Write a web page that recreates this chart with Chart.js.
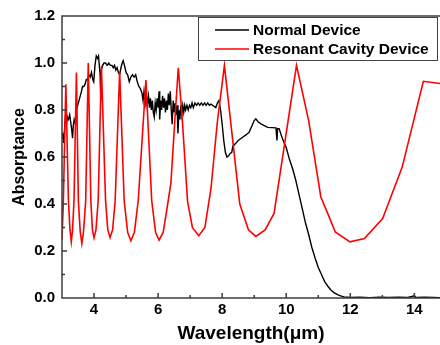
<!DOCTYPE html>
<html>
<head>
<meta charset="utf-8">
<script src="https://cdn.jsdelivr.net/npm/chart.js@4.4.1/dist/chart.umd.min.js"></script>
<style>
  html, body { margin: 0; padding: 0; background: #fff; }
  #absorbChart { display: block; }
</style>
</head>
<body>
<canvas id="absorbChart" width="440" height="345"></canvas>
<script>
// Normal device: measured absorptance vs wavelength (µm)
const normalWl = [
    3.00, 3.03, 3.05, 3.08, 3.11, 3.14, 3.17, 3.20, 3.24, 3.27, 3.30, 3.33, 3.35, 3.38, 3.42,
    3.45, 3.49, 3.53, 3.57, 3.61, 3.64, 3.68, 3.72, 3.76, 3.80, 3.84, 3.88, 3.92, 3.96, 3.99,
    4.03, 4.07, 4.11, 4.14, 4.17, 4.19, 4.21, 4.23, 4.27, 4.31, 4.36, 4.41, 4.46, 4.51, 4.56,
    4.60, 4.64, 4.68, 4.72, 4.76, 4.80, 4.84, 4.88, 4.91, 4.95, 5.00, 5.05, 5.10, 5.15, 5.20,
    5.25, 5.30, 5.35, 5.40, 5.45, 5.50, 5.53, 5.56, 5.60, 5.63, 5.66, 5.70, 5.73, 5.76, 5.79,
    5.82, 5.85, 5.88, 5.91, 5.94, 5.97, 6.00, 6.03, 6.05, 6.08, 6.11, 6.14, 6.17, 6.20, 6.23,
    6.26, 6.29, 6.32, 6.35, 6.38, 6.41, 6.44, 6.47, 6.50, 6.53, 6.56, 6.59, 6.62, 6.65, 6.68,
    6.71, 6.74, 6.77, 6.80, 6.83, 6.86, 6.90, 6.94, 6.98, 7.02, 7.06, 7.10, 7.15, 7.20, 7.25,
    7.30, 7.35, 7.40, 7.45, 7.50, 7.55, 7.60, 7.65, 7.70, 7.75, 7.80, 7.85, 7.90, 7.95, 8.00,
    8.05, 8.10, 8.15, 8.20, 8.25, 8.30, 8.33, 8.41, 8.50, 8.64, 8.75, 8.84, 8.92, 9.00, 9.05,
    9.12, 9.21, 9.30, 9.42, 9.55, 9.68, 9.71, 9.73, 9.78, 9.85, 9.92, 10.00, 10.10, 10.20, 10.30,
    10.40, 10.50, 10.60, 10.70, 10.80, 10.90, 11.00, 11.10, 11.20, 11.30, 11.40, 11.50, 11.60, 11.70, 11.80,
    12.00, 12.30, 12.60, 12.90, 13.20, 13.50, 13.80, 14.00, 14.05, 14.30, 14.60, 14.80
];
const normalAbs = [
    0.68, 0.70, 0.66, 0.72, 0.78, 0.74, 0.77, 0.76, 0.78, 0.75, 0.72, 0.68, 0.73, 0.76, 0.74,
    0.80, 0.82, 0.84, 0.86, 0.88, 0.90, 0.90, 0.91, 0.93, 0.93, 0.95, 0.94, 0.96, 0.93, 0.92,
    0.99, 1.03, 1.02, 1.03, 0.98, 0.95, 0.84, 0.97, 0.99, 1.00, 1.00, 0.99, 1.00, 0.99, 0.99,
    0.98, 0.99, 0.97, 0.98, 0.96, 0.95, 0.98, 1.00, 1.01, 0.99, 0.96, 0.95, 0.92, 0.94, 0.95,
    0.94, 0.95, 0.92, 0.90, 0.89, 0.87, 0.84, 0.88, 0.83, 0.87, 0.82, 0.86, 0.81, 0.85, 0.80,
    0.84, 0.79, 0.77, 0.83, 0.80, 0.85, 0.81, 0.88, 0.76, 0.84, 0.80, 0.86, 0.81, 0.85, 0.79,
    0.84, 0.80, 0.87, 0.82, 0.88, 0.80, 0.74, 0.84, 0.79, 0.83, 0.78, 0.82, 0.70, 0.80, 0.76,
    0.82, 0.78, 0.82, 0.79, 0.82, 0.80, 0.82, 0.80, 0.82, 0.81, 0.83, 0.81, 0.83, 0.82, 0.83,
    0.82, 0.83, 0.82, 0.83, 0.82, 0.83, 0.82, 0.825, 0.82, 0.815, 0.81, 0.83, 0.84, 0.80, 0.74,
    0.67, 0.62, 0.60, 0.605, 0.615, 0.62, 0.645, 0.656, 0.67, 0.684, 0.695, 0.705, 0.73, 0.755, 0.762,
    0.75, 0.741, 0.735, 0.726, 0.725, 0.724, 0.67, 0.72, 0.72, 0.69, 0.665, 0.64, 0.59, 0.55, 0.50,
    0.44, 0.38, 0.32, 0.27, 0.215, 0.17, 0.13, 0.10, 0.07, 0.05, 0.033, 0.022, 0.014, 0.009, 0.005,
    0.002, 0.003, 0.001, 0.003, 0.002, 0.003, 0.002, 0.009, 0.002, 0.003, 0.002, 0.001
];

// Resonant cavity device
const cavityWl = [
    2.97, 3.00, 3.04, 3.12,
    3.20, 3.25, 3.29, 3.33, 3.375, 3.45,
    3.51, 3.57, 3.62, 3.67, 3.74, 3.82,
    3.90, 3.95, 4.00, 4.06, 4.13, 4.23,
    4.36, 4.43, 4.50, 4.58, 4.66, 4.80,
    4.94, 5.05, 5.15, 5.26, 5.38, 5.62,
    5.80, 5.92, 6.03, 6.16, 6.30, 6.40, 6.52, 6.63,
    6.76, 6.92, 7.07, 7.27, 7.46, 7.65, 7.85, 8.07,
    8.55, 8.82, 9.05, 9.34, 9.62, 10.32,
    10.70, 11.08, 11.34, 11.53, 11.99, 12.44, 13.01, 13.62, 14.28, 14.80
];
const cavityAbs = [
    0.50, 0.25, 0.40, 0.91,
    0.415, 0.29, 0.24, 0.29, 0.415, 0.96,
    0.415, 0.28, 0.232, 0.28, 0.415, 1.00,
    0.415, 0.29, 0.256, 0.29, 0.415, 0.987,
    0.415, 0.29, 0.257, 0.29, 0.415, 0.964,
    0.415, 0.28, 0.243, 0.28, 0.415, 0.927,
    0.415, 0.28, 0.246, 0.28, 0.40, 0.49, 0.75, 0.98,
    0.75, 0.41, 0.30, 0.265, 0.30, 0.465, 0.75, 0.99,
    0.40, 0.29, 0.262, 0.29, 0.36, 0.99,
    0.755, 0.43, 0.345, 0.281, 0.239, 0.253, 0.338, 0.557, 0.922, 0.913
];

const xTicks = [4, 6, 8, 10, 12, 14];
const xMinorTicks = [5, 7, 9, 11, 13];
const yTicks = [0, 0.2, 0.4, 0.6, 0.8, 1.0, 1.2];
const yMinorTicks = [0.1, 0.3, 0.5, 0.7, 0.9, 1.1];

const FONT = 'Arial, "Liberation Sans", sans-serif';
const AXIS_COLOR = '#3c3c3c';

const toPoints = (xs, ys) => xs.map((x, i) => ({ x, y: ys[i] }));

// box frame + inward tick marks, drawn over the curves
const framePlugin = {
    id: 'frame',
    afterDatasetsDraw(chart) {
        const { ctx, chartArea: a, scales: { x, y } } = chart;
        ctx.save();
        ctx.strokeStyle = AXIS_COLOR;
        ctx.lineWidth = 1.5;
        ctx.beginPath();
        ctx.moveTo(a.right, a.top);
        ctx.lineTo(a.left, a.top);
        ctx.lineTo(a.left, a.bottom);
        ctx.lineTo(a.right, a.bottom);
        xTicks.forEach((v) => {
            const px = x.getPixelForValue(v);
            ctx.moveTo(px, a.bottom);
            ctx.lineTo(px, a.bottom - 5);
        });
        xMinorTicks.forEach((v) => {
            const px = x.getPixelForValue(v);
            ctx.moveTo(px, a.bottom);
            ctx.lineTo(px, a.bottom - 3);
        });
        yTicks.forEach((v) => {
            const py = y.getPixelForValue(v);
            ctx.moveTo(a.left, py);
            ctx.lineTo(a.left + 5, py);
        });
        yMinorTicks.forEach((v) => {
            const py = y.getPixelForValue(v);
            ctx.moveTo(a.left, py);
            ctx.lineTo(a.left + 3, py);
        });
        ctx.stroke();
        ctx.restore();
    },
};

// legend box in the upper right corner
const legendBox = {
    id: 'legendBox',
    afterDraw(chart) {
        const { ctx } = chart;
        const sets = chart.data.datasets;
        ctx.save();
        ctx.fillStyle = '#fff';
        ctx.fillRect(198, 17, 240, 43);
        ctx.strokeStyle = '#444';
        ctx.lineWidth = 1;
        ctx.strokeRect(198.5, 17.5, 239, 43);
        ctx.font = `bold 15.5px ${FONT}`;
        ctx.textBaseline = 'middle';
        sets.forEach((ds, i) => {
            const yy = 30 + i * 19;
            ctx.strokeStyle = ds.borderColor;
            ctx.lineWidth = 1.5;
            ctx.beginPath();
            ctx.moveTo(215, yy);
            ctx.lineTo(249, yy);
            ctx.stroke();
            ctx.fillStyle = '#000';
            ctx.fillText(ds.label, 253, yy + 1);
        });
        ctx.restore();
    },
};

new Chart(document.getElementById('absorbChart'), {
    type: 'line',
    data: {
        datasets: [
            {
                label: 'Normal Device',
                data: toPoints(normalWl, normalAbs),
                borderColor: '#000000',
                borderWidth: 1.4,
                pointRadius: 0,
                tension: 0,
                order: 1,
            },
            {
                label: 'Resonant Cavity Device',
                data: toPoints(cavityWl, cavityAbs),
                borderColor: '#ff0000',
                borderWidth: 1.6,
                pointRadius: 0,
                tension: 0,
                order: 0,
            },
        ],
    },
    options: {
        responsive: false,
        animation: false,
        layout: { padding: { top: 15, right: 0, left: 0, bottom: 0 } },
        plugins: {
            legend: { display: false },
            tooltip: { enabled: false },
        },
        scales: {
            x: {
                type: 'linear',
                min: 3,
                max: 14.8,
                afterBuildTicks: (scale) => {
                    scale.ticks = xTicks.map((v) => ({ value: v }));
                },
                afterFit: (scale) => {
                    scale.height = 47;
                },
                grid: { display: false, drawTicks: false },
                border: { display: false },
                ticks: {
                    padding: 3,
                    color: '#000',
                    font: { family: FONT, size: 15, weight: 'bold' },
                    maxRotation: 0,
                },
                title: {
                    display: true,
                    text: 'Wavelength(μm)',
                    color: '#000',
                    font: { family: FONT, size: 19, weight: 'bold' },
                    padding: { top: 0, bottom: 0 },
                },
            },
            y: {
                min: 0,
                max: 1.2,
                afterBuildTicks: (scale) => {
                    scale.ticks = yTicks.map((v) => ({ value: v }));
                },
                afterFit: (scale) => {
                    scale.width = 62;
                },
                grid: { display: false, drawTicks: false },
                border: { display: false },
                ticks: {
                    padding: 7,
                    color: '#000',
                    font: { family: FONT, size: 15, weight: 'bold' },
                    callback: (v) => v.toFixed(1),
                },
                title: {
                    display: true,
                    text: 'Absorptance',
                    color: '#000',
                    font: { family: FONT, size: 16, weight: 'bold' },
                    padding: { top: 10, bottom: 0 },
                },
            },
        },
    },
    plugins: [framePlugin, legendBox],
});
</script>
</body>
</html>
